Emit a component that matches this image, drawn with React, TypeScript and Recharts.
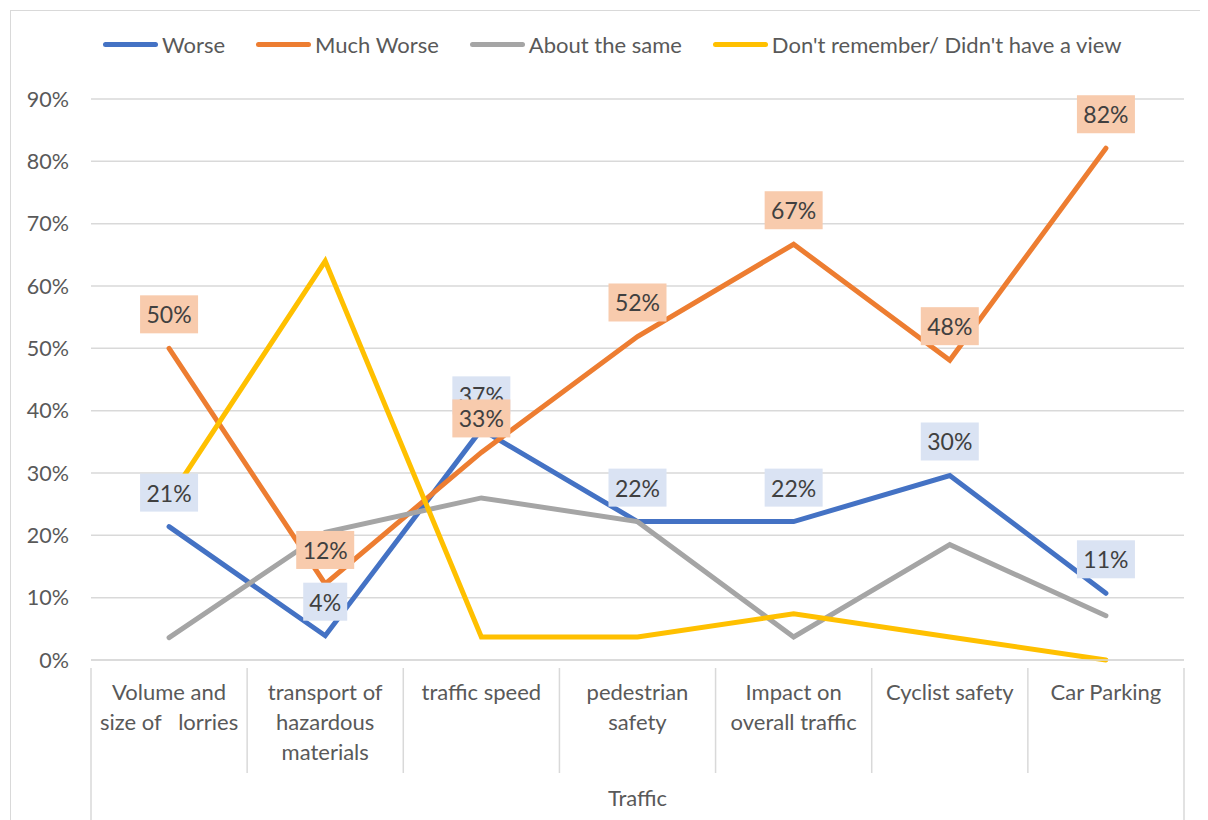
import React from 'react';
import { LineChart, Line, XAxis, YAxis, CartesianGrid, LabelList, Legend } from 'recharts';

const categories = [
  'Volume and|size of   lorries',
  'transport of|hazardous|materials',
  'traffic speed',
  'pedestrian|safety',
  'Impact on|overall traffic',
  'Cyclist safety',
  'Car Parking',
];
const groupLabel = 'Traffic';
const worse = [21.4, 3.9, 37, 22.2, 22.2, 29.6, 10.7];
const muchWorse = [50, 12.2, 33.3, 51.9, 66.7, 48.1, 82.1];
const aboutSame = [3.6, 20.5, 26, 22.2, 3.7, 18.5, 7.1];
const dontRemember = [25.9, 64, 3.7, 3.7, 7.4, 3.7, 0];
const yTicks = [0, 10, 20, 30, 40, 50, 60, 70, 80, 90];

const seriesNames = ['Worse', 'Much Worse', 'About the same', "Don't remember/ Didn't have a view"];
const seriesColors = ['#4472C4', '#ED7D31', '#A5A5A5', '#FFC000'];

const data = categories.map((c, i) => ({
  cat: c,
  worse: worse[i],
  muchWorse: muchWorse[i],
  aboutSame: aboutSame[i],
  dontRemember: dontRemember[i],
}));

const FONT = 'Lato, "Open Sans", sans-serif';
const W = 1196;
const H = 809;
const M = { top: 65, right: 23, left: 0, bottom: 0 };
const YW = 80;
const PLOT_W = W - M.left - M.right - YW;
const BAND = PLOT_W / categories.length;
const XH = 160;

const makeLabel = (fill: string) => (props: any) => {
  const { x, y, value } = props;
  if (x == null || y == null) return null;
  const txt = `${Math.round(value)}%`;
  const w = txt.length * 14 + 16;
  const h = 38;
  const cy = y - 34;
  return (
    <g>
      <rect x={x - w / 2} y={cy - h / 2} width={w} height={h} fill={fill} />
      <text x={x} y={cy} textAnchor="middle" dominantBaseline="central" fontFamily={FONT} fontSize={23} fill="#404040">
        {txt}
      </text>
    </g>
  );
};

const XTick = (props: any) => {
  const { x, y, payload, index } = props;
  const lines = String(payload.value).split('|');
  const left = x - BAND / 2;
  const right = x + BAND / 2;
  const top = y;
  const isFirst = index === 0;
  const isLast = index === categories.length - 1;
  return (
    <g>
      <line x1={left} y1={top} x2={left} y2={isFirst ? top + XH : top + 105} stroke="#D9D9D9" strokeWidth={1.5} />
      {isLast && <line x1={right} y1={top} x2={right} y2={top + XH} stroke="#D9D9D9" strokeWidth={1.5} />}
      {lines.map((l, i) => (
        <text key={i} x={x} y={top + 23 + i * 30} textAnchor="middle" dominantBaseline="central" fontFamily={FONT} fontSize={22} fill="#595959" style={{ whiteSpace: 'pre' }}>
          {l}
        </text>
      ))}
    </g>
  );
};

const LegendContent = () => (
  <div style={{ display: 'flex', alignItems: 'center', fontFamily: FONT, fontSize: 22, color: '#595959', paddingLeft: 92, height: 23 }}>
    {seriesNames.map((n, i) => (
      <div key={n} style={{ display: 'flex', alignItems: 'center', marginRight: 31 }}>
        <div style={{ width: 55, height: 5, borderRadius: 3, background: seriesColors[i], marginRight: 4 }} />
        <span style={{ whiteSpace: 'nowrap' }}>{n}</span>
      </div>
    ))}
  </div>
);

export default function App() {
  return (
    <div style={{ marginLeft: 2, marginTop: 2, width: W, height: 812, border: '1px solid #D9D9D9', boxSizing: 'border-box', overflow: 'hidden', background: '#fff' }}>
      <LineChart width={W} height={H} data={data} margin={M}>
        <CartesianGrid vertical={false} stroke="#D9D9D9" strokeWidth={1.5} />
        <XAxis
          dataKey="cat"
          interval={0}
          padding={{ left: BAND / 2, right: BAND / 2 }}
          height={XH}
          tickLine={false}
          axisLine={{ stroke: '#D9D9D9', strokeWidth: 1.5 }}
          tick={<XTick />}
          label={{ value: groupLabel, position: 'insideBottom', offset: 14, fontFamily: FONT, fontSize: 22, fill: '#595959' }}
        />
        <YAxis
          width={YW}
          domain={[0, 90]}
          ticks={yTicks}
          tickFormatter={(v: number) => `${v}%`}
          axisLine={false}
          tickLine={false}
          tickSize={0}
          tickMargin={22}
          tick={{ fontFamily: FONT, fontSize: 21.5, fill: '#595959' }}
        />
        <Legend verticalAlign="top" align="left" wrapperStyle={{ top: 22, left: 0 }} content={<LegendContent />} />
        <Line dataKey="worse" stroke={seriesColors[0]} strokeWidth={5} dot={false} isAnimationActive={false} strokeLinecap="round" />
        <Line dataKey="muchWorse" stroke={seriesColors[1]} strokeWidth={5} dot={false} isAnimationActive={false} strokeLinecap="round" />
        <Line dataKey="aboutSame" stroke={seriesColors[2]} strokeWidth={5} dot={false} isAnimationActive={false} strokeLinecap="round" />
        <Line dataKey="dontRemember" stroke={seriesColors[3]} strokeWidth={5} dot={false} isAnimationActive={false} strokeLinecap="round" />
        <Line dataKey="worse" stroke="none" dot={false} activeDot={false} legendType="none" isAnimationActive={false}>
          <LabelList dataKey="worse" content={makeLabel('#DAE3F3')} />
        </Line>
        <Line dataKey="muchWorse" stroke="none" dot={false} activeDot={false} legendType="none" isAnimationActive={false}>
          <LabelList dataKey="muchWorse" content={makeLabel('#F8CBAD')} />
        </Line>
      </LineChart>
    </div>
  );
}
